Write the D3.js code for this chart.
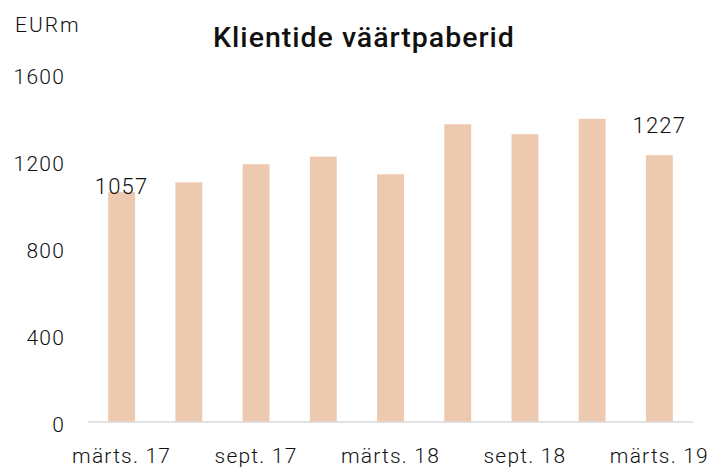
<!DOCTYPE html>
<html><head><meta charset="utf-8">
<script src="https://cdn.jsdelivr.net/npm/d3@7"></script>
<style>
html,body{margin:0;padding:0;background:#fff;}
text{font-family:Roboto,"Liberation Sans",Arial,sans-serif;fill:#111;}
</style></head>
<body><svg id="c" width="715" height="468"></svg>
<script>
const categories = ["märts. 17","juuni 17","sept. 17","dets. 17","märts. 18","juuni 18","sept. 18","dets. 18","märts. 19"];
const values = [1057, 1102, 1185, 1220, 1139, 1369, 1323, 1394, 1227];
const shownXLabels = ["märts. 17","sept. 17","märts. 18","sept. 18","märts. 19"];
const yTicks = [0, 400, 800, 1200, 1600];
const labelled = {"märts. 17": 1057, "märts. 19": 1227};
const title = "Klientide väärtpaberid";
const unit = "EURm";

const FONT = 'Roboto,"Liberation Sans",Arial,sans-serif';
const svg = d3.select("#c");
const margin = {left: 88, right: 22, top: 74, bottom: 46};
const W = 715, H = 468;
const x = d3.scaleBand().domain(categories).range([margin.left, W - margin.right]).paddingInner(0.6).paddingOuter(0.3);
const y = d3.scaleLinear().domain([0, 1600]).range([H - margin.bottom, margin.top]);

svg.append("text").attr("x", 364).attr("y", 47).attr("text-anchor", "middle")
  .attr("font-size", 28.5).attr("font-weight", 500).attr("letter-spacing", 1).text(title);
svg.append("text").attr("x", 15).attr("y", 32).attr("font-size", 21).attr("font-weight", 300).attr("letter-spacing", 2).text(unit);

svg.selectAll("rect.bar").data(values).enter().append("rect")
  .attr("class","bar")
  .attr("x", (d,i) => x(categories[i]))
  .attr("width", x.bandwidth())
  .attr("y", d => y(d))
  .attr("height", d => y(0) - y(d))
  .attr("fill", "#EDC9B0");

svg.append("line").attr("x1", margin.left).attr("x2", W - margin.right)
  .attr("y1", y(0)).attr("y2", y(0)).attr("stroke", "#D9D9D9").attr("stroke-width", 1.5);

const yAxis = d3.axisLeft(y).tickValues(yTicks).tickFormat(d3.format("d")).tickSize(0).tickPadding(0);
const gy = svg.append("g").attr("transform", `translate(65,0)`).call(yAxis);
gy.select(".domain").remove();
gy.selectAll("text").attr("font-size", 21).attr("font-weight", 300).attr("letter-spacing", 1.2).attr("dy", "0.45em")
  .style("font-family", FONT).attr("fill", "#111");

const xAxis = d3.axisBottom(x).tickValues(shownXLabels).tickSize(0).tickPadding(0);
const gx = svg.append("g").attr("transform", `translate(0,${y(0)})`).call(xAxis);
gx.select(".domain").remove();
gx.selectAll("text").attr("font-size", 21).attr("font-weight", 300).attr("letter-spacing", 1.2).attr("dy", null).attr("y", 41)
  .style("font-family", FONT).attr("fill", "#111");

const offs = {"märts. 17": 2, "märts. 19": -22};
svg.selectAll("text.dl").data(Object.keys(labelled)).enter().append("text")
  .attr("class","dl")
  .attr("x", d => x(d) + x.bandwidth()/2)
  .attr("y", d => y(labelled[d]) + offs[d])
  .attr("text-anchor","middle").attr("font-size", 22).attr("font-weight", 300).attr("letter-spacing", 1.2)
  .text(d => labelled[d]);
</script></body></html>
